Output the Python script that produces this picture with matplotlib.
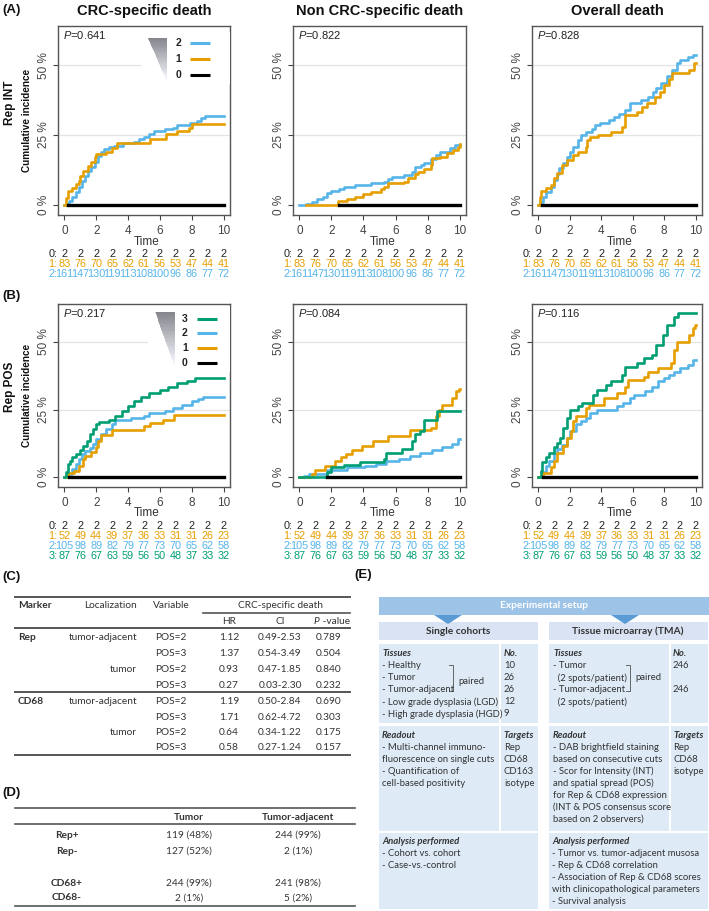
import matplotlib
matplotlib.use('Agg')
import matplotlib.pyplot as plt
from matplotlib.patches import Rectangle, Polygon
from matplotlib.lines import Line2D
import matplotlib.transforms as mtrans

plt.rcParams['font.family'] = ['Liberation Sans', 'DejaVu Sans']
plt.rcParams['mathtext.fontset'] = 'custom'
plt.rcParams['mathtext.it'] = 'Liberation Sans:italic'
plt.rcParams['mathtext.rm'] = 'Liberation Sans'

# ---------------- data ----------------
COL_TITLES = ["CRC-specific death", "Non CRC-specific death", "Overall death"]
ROW_LABELS = ["Rep INT", "Rep POS"]
P_INT = ["0.641", "0.822", "0.828"]
P_POS = ["0.217", "0.084", "0.116"]
TIME_TICKS = [0, 2, 4, 6, 8, 10]
Y_TICKS = [0, 25, 50]
Y_TICKLABELS = ["0 %", "25 %", "50 %"]

# Rep INT, CRC-specific death (time, cumulative incidence %)
INT_CRC_0 = [(0.25, 0), (10, 0)]
INT_CRC_1 = [(0, 0), (0.1, 2.5), (0.2, 5), (0.5, 6), (0.7, 7.5), (0.9, 8.5), (1.0, 10.5), (1.2, 12),
             (1.5, 14), (1.7, 15.5), (1.9, 17), (2.0, 18.2), (2.6, 19), (3.0, 20.2), (3.3, 22),
             (5.4, 23.5), (6.4, 25.2), (7.1, 26.4), (7.8, 27.6), (8.0, 29), (10, 29)]
INT_CRC_2 = [(0, 0), (0.1, 0.5), (0.3, 1.5), (0.5, 3), (0.7, 4.5), (0.9, 6.5), (1.1, 8.5), (1.3, 10.5),
             (1.5, 12), (1.7, 13.5), (1.9, 15.5), (2.1, 17.5), (2.3, 19), (2.5, 20), (2.8, 20.6),
             (3.1, 21.2), (3.7, 22), (4.4, 22.6), (4.7, 23.5), (5.0, 24.4), (5.3, 25.5), (5.6, 26.5),
             (6.3, 27), (6.8, 27.4), (7.1, 28.6), (7.9, 29.2), (8.3, 30), (8.6, 31), (8.8, 31.8), (10, 31.8)]
# Rep INT, Non CRC-specific death
INT_NON_0 = [(2.5, 0), (10, 0)]
INT_NON_1 = [(0.4, 0), (2.4, 1.4), (3.0, 2.1), (3.5, 3), (4.0, 3.8), (4.5, 4.8), (5.1, 5.6), (5.3, 6.5),
             (5.5, 7.7), (6.5, 8.3), (6.8, 9.5), (7.2, 11), (7.4, 11.9), (7.8, 12.7), (8.2, 14.3),
             (8.3, 16.7), (8.8, 17.3), (9.2, 18.5), (9.6, 19.6), (9.9, 20.8), (10, 21.8)]
INT_NON_2 = [(0, 0), (0.4, 0.4), (0.8, 1.2), (1.1, 2), (1.5, 3), (1.7, 4.2), (2.0, 5.1), (2.5, 5.6),
             (2.8, 6.3), (3.5, 7.1), (4.5, 7.7), (5.3, 8.3), (5.5, 9.2), (5.8, 10.1), (6.5, 10.7),
             (7.0, 11.9), (7.2, 13.7), (7.6, 14.3), (7.8, 15.1), (8.2, 16.3), (8.5, 17.9), (8.8, 19),
             (9.4, 20.2), (9.7, 21.4), (10, 21.4)]
# Rep INT, Overall death
INT_ALL_0 = [(0.25, 0), (10, 0)]
INT_ALL_1 = [(0, 0), (0.1, 3), (0.2, 5.1), (0.5, 6), (0.8, 7.1), (1.0, 9.5), (1.2, 11.3), (1.5, 14.3),
             (1.8, 16), (2.2, 17.9), (2.5, 19), (3.0, 20.8), (3.1, 23.2), (3.3, 24.4), (3.8, 25),
             (4.6, 26.2), (5.3, 28), (5.5, 32.1), (6.3, 33.3), (6.6, 35.1), (6.9, 36.3), (7.4, 38.7),
             (7.7, 40.5), (8.0, 42.9), (8.3, 45.2), (8.5, 47.3), (9.6, 48.2), (9.9, 50.6), (10, 50.6)]
INT_ALL_2 = [(0, 0), (0.1, 1), (0.3, 3), (0.5, 4.8), (0.8, 6.5), (1.0, 8.9), (1.2, 11), (1.3, 13.1),
             (1.6, 14.9), (1.8, 17.3), (2.0, 19), (2.2, 20.8), (2.5, 23.2), (2.7, 25), (3.0, 26.2),
             (3.4, 27), (3.6, 28.6), (3.9, 29.4), (4.5, 30.4), (4.8, 31.5), (5.1, 32.7), (5.5, 33.9),
             (5.8, 36.3), (6.5, 37.5), (7.0, 38.7), (7.3, 40.5), (7.5, 41.7), (7.8, 43.5), (8.2, 46),
             (8.5, 48.2), (8.8, 50.6), (9.0, 51.8), (9.5, 53), (9.8, 53.6), (10, 53.6)]

# Rep POS, CRC-specific death
POS_CRC_0 = [(0.3, 0), (10, 0)]
POS_CRC_1 = [(0, 0), (0.2, 1.5), (0.6, 2.4), (0.9, 4.3), (1.2, 6.7), (1.3, 7.9), (1.7, 9.5), (2.0, 11),
             (2.1, 13.4), (2.3, 15.6), (3.0, 17.3), (5.0, 18.9), (5.4, 20.1), (6.2, 21.3), (6.9, 22.9),
             (10, 22.9)]
POS_CRC_2 = [(0, 0), (0.3, 1.2), (0.5, 3), (0.7, 4.9), (0.9, 6.7), (1.1, 8.5), (1.3, 9.8), (1.6, 10.7),
             (1.8, 12.2), (2.0, 14), (2.3, 15.9), (2.6, 17.7), (3.0, 19.5), (3.2, 21), (4.2, 22),
             (5.0, 22.6), (5.3, 23.8), (6.3, 24.6), (6.8, 25.6), (7.4, 26.8), (8.0, 28), (8.4, 29),
             (8.7, 29.5), (10, 29.5)]
POS_CRC_3 = [(0, 0), (0.1, 1.8), (0.2, 4.9), (0.35, 6.1), (0.5, 7.3), (0.7, 8.5), (1.0, 10), (1.2, 11.6),
             (1.4, 13.4), (1.6, 15.9), (1.8, 17.7), (2.0, 19.5), (2.2, 20.4), (2.8, 21.3), (3.2, 22.6),
             (3.6, 24.4), (4.0, 26.2), (4.4, 28), (4.8, 29.5), (5.3, 31.1), (6.0, 32.3), (6.5, 33.5),
             (7.1, 34.8), (7.7, 35.6), (8.2, 36.6), (10, 36.6)]
# Rep POS, Non CRC-specific death
POS_NON_0 = [(1.7, 0), (10, 0)]
POS_NON_1 = [(0, 0), (0.8, 1.2), (1.0, 2.7), (1.6, 4.3), (2.2, 5.9), (2.6, 7.3), (2.9, 8.5), (3.3, 10),
             (3.9, 11.6), (4.6, 13.4), (5.5, 15.2), (6.9, 17.3), (8.2, 18.3), (8.5, 22.6), (8.7, 25),
             (8.9, 26.8), (9.5, 29.3), (9.8, 31.7), (9.95, 32.7), (10, 32.7)]
POS_NON_2 = [(0, 0), (0.3, 0.6), (0.6, 1.2), (1.7, 2.7), (3.0, 3.7), (4.1, 4.3), (4.8, 4.9), (5.4, 5.9),
             (6.2, 6.7), (6.9, 7.9), (7.5, 9.1), (8.3, 10), (8.9, 11), (9.5, 12.4), (9.9, 14), (10, 14)]
POS_NON_3 = [(0, 0), (1.7, 1.8), (2.0, 3.7), (2.8, 4.6), (3.8, 5.5), (5.3, 6.7), (5.4, 9.1), (6.4, 10.4),
             (7.0, 13.4), (7.2, 15.9), (7.5, 17.1), (7.8, 21.3), (8.6, 24.4), (10, 24.4)]
# Rep POS, Overall death
POS_ALL_0 = [(0.3, 0), (10, 0)]
POS_ALL_1 = [(0, 0), (0.3, 1.5), (0.8, 3.7), (1.0, 6.1), (1.2, 9.1), (1.6, 11.6), (1.8, 14.6), (2.1, 17.1),
             (2.2, 20.7), (2.4, 22.6), (3.0, 25.6), (3.2, 26.8), (4.2, 29.3), (5.0, 31.1), (5.5, 33.5),
             (5.7, 36), (6.7, 37.2), (7.0, 39), (7.6, 40.2), (8.4, 42.1), (8.6, 47), (8.8, 50),
             (9.6, 52.4), (9.8, 55.1), (9.95, 56.1), (10, 56.1)]
POS_ALL_2 = [(0, 0), (0.3, 1.8), (0.5, 4.3), (0.7, 6.1), (1.0, 8.5), (1.2, 10.4), (1.5, 12), (1.8, 14.6),
             (2.0, 17.1), (2.4, 19.5), (2.7, 20.7), (3.0, 22), (3.3, 23.8), (3.7, 25), (5.0, 26.2),
             (5.4, 27.4), (5.8, 29.3), (6.1, 30.5), (6.8, 31.7), (7.2, 33.5), (7.6, 35.4), (8.0, 36.6),
             (8.3, 37.8), (8.6, 39), (9.0, 40.2), (9.5, 41.5), (9.8, 43.3), (10, 43.3)]
POS_ALL_3 = [(0, 0), (0.15, 2.4), (0.25, 5.5), (0.5, 7.3), (0.7, 9.1), (1.0, 11), (1.2, 12.8), (1.4, 14.6),
             (1.6, 18.3), (1.8, 22), (2.0, 25), (2.5, 26.2), (2.8, 27.4), (3.5, 30.5), (3.7, 32.3),
             (4.3, 33.9), (4.6, 35.4), (5.3, 37.8), (5.5, 40.9), (6.3, 42.1), (6.7, 43.9), (7.2, 45.1),
             (7.5, 48.8), (7.9, 52.4), (8.2, 56.1), (8.6, 59.1), (8.9, 60.7), (10, 60.7)]

# numbers at risk (t = 0..10)
INT_RISK_0 = [2, 2, 2, 2, 2, 2, 2, 2, 2, 2, 2]
INT_RISK_1 = [83, 76, 70, 65, 62, 61, 56, 53, 47, 44, 41]
INT_RISK_2 = [161, 147, 130, 119, 113, 108, 100, 96, 86, 77, 72]
POS_RISK_0 = [2, 2, 2, 2, 2, 2, 2, 2, 2, 2, 2]
POS_RISK_1 = [52, 49, 44, 39, 37, 36, 33, 31, 31, 26, 23]
POS_RISK_2 = [105, 98, 89, 82, 79, 77, 73, 70, 65, 62, 58]
POS_RISK_3 = [87, 76, 67, 63, 59, 56, 50, 48, 37, 33, 32]

# Table C
C_MARKER = ["Rep", "", "", "", "CD68", "", "", ""]
C_LOC = ["tumor-adjacent", "", "tumor", "", "tumor-adjacent", "", "tumor", ""]
C_VAR = ["POS=2", "POS=3", "POS=2", "POS=3", "POS=2", "POS=3", "POS=2", "POS=3"]
C_HR = ["1.12", "1.37", "0.93", "0.27", "1.19", "1.71", "0.64", "0.58"]
C_CI = ["0.49-2.53", "0.54-3.49", "0.47-1.85", "0.03-2.30", "0.50-2.84", "0.62-4.72", "0.34-1.22", "0.27-1.24"]
C_P = ["0.789", "0.504", "0.840", "0.232", "0.690", "0.303", "0.175", "0.157"]

# Table D
D_ROWS = ["Rep+", "Rep-", "CD68+", "CD68-"]
D_TUMOR = ["119 (48%)", "127 (52%)", "244 (99%)", "2 (1%)"]
D_ADJ = ["244 (99%)", "2 (1%)", "241 (98%)", "5 (2%)"]

# ---------------- style ----------------
BLACK = "#000000"
ORANGE = "#E69F00"
BLUE = "#56B4E9"
GREEN = "#009E73"
GROUP_COLORS = [BLACK, ORANGE, BLUE, GREEN]
TXT = "#333333"
TFONT = ['Lato', 'DejaVu Sans']

W, H = 709, 911
fig = plt.figure(figsize=(W / 100, H / 100), dpi=100)


def fx(x):
    return x / W


def fy(y):
    return 1 - y / H


def ftext(x, y, s, **kw):
    kw.setdefault('va', 'center')
    return fig.text(fx(x), fy(y), s, **kw)


COLS = [(58, 230), (293, 466), (532, 702)]
ROWS = [(26, 215), (304, 487)]
RISK_Y = [[254, 264, 274], [526, 536, 546, 556]]
TIME_Y = [242, 513]

panels = [
    [(INT_CRC_0, INT_CRC_1, INT_CRC_2), (INT_NON_0, INT_NON_1, INT_NON_2), (INT_ALL_0, INT_ALL_1, INT_ALL_2)],
    [(POS_CRC_0, POS_CRC_1, POS_CRC_2, POS_CRC_3), (POS_NON_0, POS_NON_1, POS_NON_2, POS_NON_3),
     (POS_ALL_0, POS_ALL_1, POS_ALL_2, POS_ALL_3)],
]
risks = [[INT_RISK_0, INT_RISK_1, INT_RISK_2], [POS_RISK_0, POS_RISK_1, POS_RISK_2, POS_RISK_3]]
pvals = [P_INT, P_POS]


def draw_legend(ax, ngroups, tri, lab_x, line_x, ys):
    ax.add_patch(Rectangle((tri[0] - 0.04, min(ys) - 0.05), 1.0 - tri[0] + 0.04, max(tri[2], max(ys)) - min(ys) + 0.08,
                           transform=ax.transAxes, facecolor='white', edgecolor='none', zorder=5))
    xl, xr, yt, yb = tri
    n = 40
    for i in range(n):
        y0 = yt - (yt - yb) * i / n
        y1 = yt - (yt - yb) * (i + 1) / n
        xa0 = xl + (xr - xl) * i / n
        xa1 = xl + (xr - xl) * (i + 1) / n
        g = 0.52 + 0.48 * (i / n)
        ax.add_patch(Polygon([(xa0, y0), (xr, y0), (xr, y1), (xa1, y1)], closed=True,
                             transform=ax.transAxes, facecolor=(g, g, min(1.0, g + 0.03)),
                             edgecolor='none', zorder=6))
    for k in range(ngroups):
        gi = ngroups - 1 - k
        ax.text(lab_x, ys[k], str(gi), transform=ax.transAxes, ha='center', va='center',
                fontsize=7.5, fontweight='bold', color='#222222', zorder=7)
        ax.add_line(Line2D(line_x, [ys[k], ys[k]], transform=ax.transAxes, color=GROUP_COLORS[gi],
                           lw=2.2, zorder=7, solid_capstyle='butt'))


for r in range(2):
    for c in range(3):
        x0, x1 = COLS[c]
        y0, y1 = ROWS[r]
        ax = fig.add_axes([fx(x0), fy(y1), (x1 - x0) / W, (y1 - y0) / H])
        ax.set_xlim(-0.4, 10.4)
        ax.set_ylim(-3.6, 64)
        for yv in [25, 50]:
            ax.axhline(yv, color='#e4e4e4', lw=0.9, zorder=0)
        series = panels[r][c]
        order = [2, 1, 3, 0] if len(series) == 4 else [2, 1, 0]
        for gi in order:
            pts = series[gi]
            t = [p[0] for p in pts]
            yv = [p[1] for p in pts]
            ax.step(t, yv, where='post', color=GROUP_COLORS[gi], lw=2.4 if gi == 0 else 1.9, zorder=3 + (gi == 0))
        ax.set_xticks(TIME_TICKS)
        ax.set_yticks(Y_TICKS)
        ax.set_yticklabels(Y_TICKLABELS, rotation=90, va='center')
        ax.tick_params(axis='both', labelsize=8.5, colors='#444444', length=3.5, width=0.8, pad=2)
        ax.tick_params(axis='x', pad=3.5)
        for sp in ax.spines.values():
            sp.set_color('#555555')
            sp.set_linewidth(1.0)
        ax.text(0.03, 0.95, "$P$=" + pvals[r][c], transform=ax.transAxes, ha='left', va='center',
                fontsize=8, color='#222222', zorder=8)
        # time label and risk table
        ftext((x0 + x1) / 2 + 3, TIME_Y[r], "Time", ha='center', fontsize=8.5, color='#333333')
        tr = mtrans.blended_transform_factory(ax.transData, fig.transFigure)
        for g, rk in enumerate(risks[r]):
            col = '#222222' if g == 0 else GROUP_COLORS[g]
            ftext(x0 - 0.5, RISK_Y[r][g], f"{g}:", ha='right', fontsize=7.8, color=col)
            for i, v in enumerate(rk):
                ax.text(i, fy(RISK_Y[r][g]), str(v), transform=tr, ha='center', va='center',
                        fontsize=7.8, color=col, clip_on=False)
        if c == 0:
            if r == 0:
                draw_legend(ax, 3, (0.523, 0.634, 0.937, 0.704), 0.698, [0.767, 0.884], [0.910, 0.825, 0.741])
            else:
                draw_legend(ax, 4, (0.564, 0.680, 0.958, 0.657), 0.738, [0.808, 0.924],
                            [0.918, 0.842, 0.760, 0.678])
        if r == 0:
            ftext((x0 + x1) / 2, 11, COL_TITLES[c], ha='center', fontsize=10.5, fontweight='bold', color='#111111')

# row labels
ftext(10, 103, ROW_LABELS[0], ha='center', rotation=90, fontsize=8.5, fontweight='bold', color='#111111')
ftext(27, 120, "Cumulative incidence", ha='center', rotation=90, fontsize=7.2, fontweight='bold', color='#111111')
ftext(10, 387, ROW_LABELS[1], ha='center', rotation=90, fontsize=8.5, fontweight='bold', color='#111111')
ftext(27, 395, "Cumulative incidence", ha='center', rotation=90, fontsize=7.2, fontweight='bold', color='#111111')

# panel letters
for lab, (x, y) in {"(A)": (2, 10), "(B)": (2, 296), "(C)": (2, 577), "(D)": (2, 793)}.items():
    ftext(x, y, lab, ha='left', fontsize=9.5, fontweight='bold', color='#111111')
ftext(363, 575, "(E)", ha='center', fontsize=9.5, fontweight='bold', color='#111111')


def hline(x0, x1, y, lw=1.2, color='#555555'):
    fig.add_artist(Line2D([fx(x0), fx(x1)], [fy(y), fy(y)], transform=fig.transFigure, color=color, lw=lw))


# ---------------- Table C ----------------
TS = 7.3
hline(15, 350, 597, lw=1.4)
ftext(18, 606, "Marker", ha='left', fontsize=TS, fontweight='bold', color=TXT, family=TFONT)
ftext(137, 606, "Localization", ha='right', fontsize=TS, color=TXT, family=TFONT)
ftext(171, 606, "Variable", ha='center', fontsize=TS, color=TXT, family=TFONT)
ftext(280, 606, "CRC-specific death", ha='center', fontsize=TS, color=TXT, family=TFONT)
hline(203, 350, 613, lw=1.2)
ftext(229, 622, "HR", ha='center', fontsize=TS, color=TXT, family=TFONT)
ftext(280, 622, "CI", ha='center', fontsize=TS, color=TXT, family=TFONT)
ftext(316, 622, "P", ha='center', fontsize=TS, style='italic', color=TXT, family=TFONT)
ftext(320, 622, " -value", ha='left', fontsize=TS, color=TXT, family=TFONT)
hline(15, 350, 628, lw=1.4)
C_Y = [638, 654, 669.5, 685, 701, 717, 732.5, 748]
for i in range(8):
    yy = C_Y[i]
    if C_MARKER[i]:
        ftext(18, yy, C_MARKER[i], ha='left', fontsize=TS, fontweight='bold', color=TXT, family=TFONT)
    if C_LOC[i]:
        ftext(137, yy, C_LOC[i], ha='right', fontsize=TS, color=TXT, family=TFONT)
    ftext(171, yy, C_VAR[i], ha='center', fontsize=TS, color=TXT, family=TFONT)
    ftext(229, yy, C_HR[i], ha='center', fontsize=TS, color=TXT, family=TFONT)
    ftext(280, yy, C_CI[i], ha='center', fontsize=TS, color=TXT, family=TFONT)
    ftext(329, yy, C_P[i], ha='center', fontsize=TS, color=TXT, family=TFONT)
hline(15, 350, 692, lw=1.4)
hline(15, 350, 755, lw=1.4)

# ---------------- Table D ----------------
hline(15, 355, 808, lw=1.2)
ftext(189, 817, "Tumor", ha='center', fontsize=TS, fontweight='bold', color=TXT, family=TFONT)
ftext(298, 817, "Tumor-adjacent", ha='center', fontsize=TS, fontweight='bold', color=TXT, family=TFONT)
hline(15, 355, 824, lw=1.2)
D_Y = [835, 851, 883, 898]
for i in range(4):
    ftext(67, D_Y[i], D_ROWS[i], ha='center', fontsize=TS, fontweight='bold', color=TXT, family=TFONT)
    ftext(189, D_Y[i], D_TUMOR[i], ha='center', fontsize=TS, color=TXT, family=TFONT)
    ftext(298, D_Y[i], D_ADJ[i], ha='center', fontsize=TS, color=TXT, family=TFONT)
hline(15, 355, 906, lw=1.2)

# ---------------- Panel E ----------------
CELL = "#DEEBF7"
HEAD = "#DAE3F3"
BANNER = "#9DC3E6"
ARROW = "#5B9BD5"


def box(x0, y0, x1, y1, color):
    fig.add_artist(Rectangle((fx(x0), fy(y1)), (x1 - x0) / W, (y1 - y0) / H, transform=fig.transFigure,
                             facecolor=color, edgecolor='none'))


box(379, 597, 709, 615, BANNER)
ftext(544, 606, "Experimental setup", ha='center', fontsize=7.3, fontweight='bold', color='white', family=TFONT)
box(379, 622, 538, 640, HEAD)
box(549, 622, 708, 640, HEAD)
for cx in [448, 625]:
    fig.add_artist(Polygon([(fx(cx - 14), fy(615)), (fx(cx + 14), fy(615)), (fx(cx), fy(624))],
                           closed=True, transform=fig.transFigure, facecolor=ARROW, edgecolor='none'))
ftext(458, 631, "Single cohorts", ha='center', fontsize=7.3, fontweight='bold', color=TXT, family=TFONT)
ftext(628, 631, "Tissue microarray (TMA)", ha='center', fontsize=7.3, fontweight='bold', color=TXT, family=TFONT)
for (a, b) in [(644, 723), (726, 831)]:
    box(379, a, 499, b, CELL)
    box(501, a, 538, b, CELL)
    box(549, a, 669, b, CELL)
    box(671, a, 708, b, CELL)
box(379, 833, 538, 909, CELL)
box(549, 833, 708, 909, CELL)

ES = 6.8


def etext(x, y, s, head=False):
    if head:
        ftext(x, y, s, ha='left', fontsize=ES, fontweight='bold', style='italic', color=TXT, family=TFONT)
    else:
        ftext(x, y, s, ha='left', fontsize=ES, color=TXT, family=TFONT)


L_TIS = ["- Healthy", "- Tumor", "- Tumor-adjacent", "- Low grade dysplasia (LGD)", "- High grade dysplasia (HGD)"]
L_NO = ["10", "26", "26", "12", "9"]
LINE_Y = [666, 678, 689.5, 702, 714]
etext(382, 654, "Tissues", True)
etext(504, 654, "No.", True)
for i in range(5):
    etext(382, LINE_Y[i], L_TIS[i])
    etext(504, LINE_Y[i], L_NO[i])
etext(553, 654, "Tissues", True)
etext(673, 654, "No.", True)
R_TIS = ["- Tumor", "  (2 spots/patient)", "- Tumor-adjacent", "  (2 spots/patient)"]
for i in range(4):
    etext(553, LINE_Y[i], R_TIS[i])
etext(673, 666, "246")
etext(673, 689.5, "246")
# paired brackets
for (bx, px_, py) in [(453, 458, 682), (630, 635, 677.5)]:
    fig.add_artist(Line2D([fx(bx - 4), fx(bx), fx(bx), fx(bx - 4)], [fy(665), fy(665), fy(691), fy(691)],
                          transform=fig.transFigure, color='#666666', lw=0.7))
    etext(px_, py, "paired")

etext(382, 736, "Readout", True)
for yy, s in zip([747, 759, 771, 783], ["- Multi-channel immuno-", "fluorescence on single cuts",
                                          "- Quantification of", "cell-based positivity"]):
    etext(382, yy, s)
etext(504, 736, "Targets", True)
for yy, s in zip([747, 759, 771, 783], ["Rep", "CD68", "CD163", "isotype"]):
    etext(504, yy, s)
etext(553, 736, "Readout", True)
for yy, s in zip([747, 759, 771, 783, 795, 807, 819],
                 ["- DAB brightfield staining", "based on consecutive cuts", "- Scor for Intensity (INT)",
                  "and spatial spread (POS)", "for Rep & CD68 expression", "(INT & POS consensus score",
                  "based on 2 observers)"]):
    etext(553, yy, s)
etext(673, 736, "Targets", True)
for yy, s in zip([747, 759, 771], ["Rep", "CD68", "isotype"]):
    etext(673, yy, s)

etext(382, 842, "Analysis performed", True)
etext(382, 854, "- Cohort vs. cohort")
etext(382, 866, "- Case-vs.-control")
etext(552, 842, "Analysis performed", True)
for yy, s in zip([854, 866, 878, 890, 901],
                 ["- Tumor vs. tumor-adjacent musosa", "- Rep & CD68 correlation",
                  "- Association of Rep & CD68 scores", "with clinicopathological parameters",
                  "- Survival analysis"]):
    etext(552, yy, s)

fig.savefig("out.png", dpi=100)
